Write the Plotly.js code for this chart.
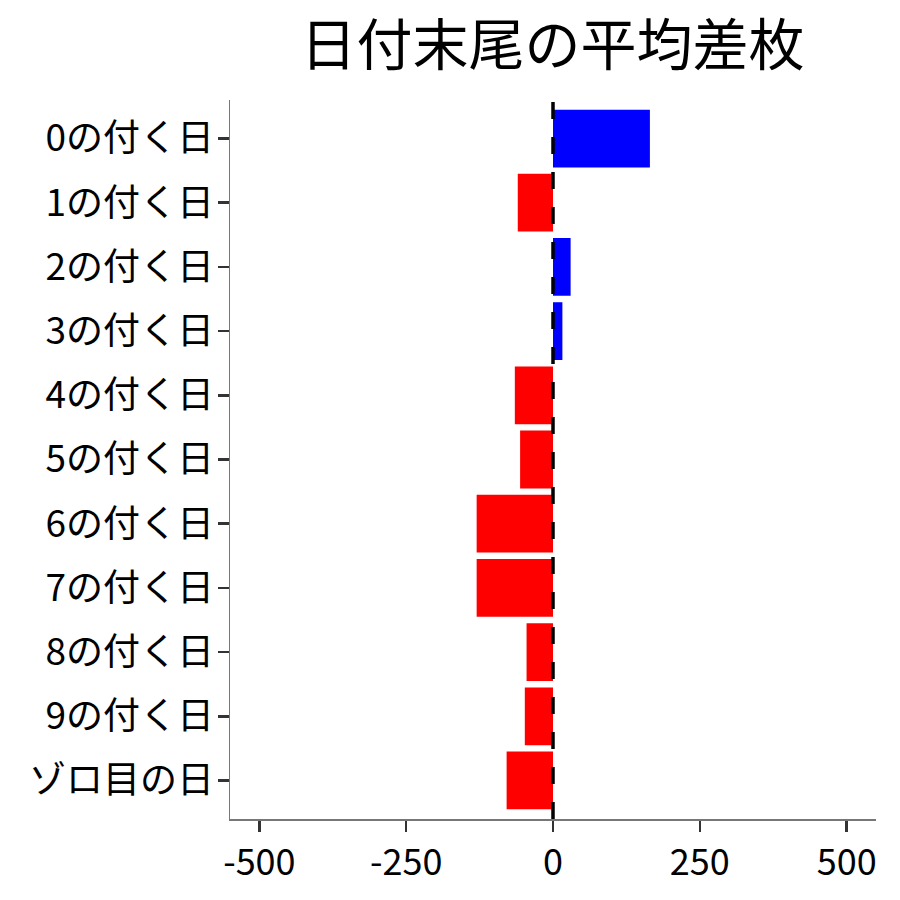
<!DOCTYPE html>
<html><head><meta charset="utf-8">
<script src="https://cdn.plot.ly/plotly-3.0.1.min.js"></script>
<style>body{margin:0;background:#fff}#c{width:900px;height:900px}</style>
</head><body><div id="c"></div>
<script>
const categories = ["0の付く日","1の付く日","2の付く日","3の付く日","4の付く日","5の付く日","6の付く日","7の付く日","8の付く日","9の付く日","ゾロ目の日"];
const values = [165, -60, 30, 16, -65, -56, -130, -130, -45, -48, -79];
const xTicks = [-500, -250, 0, 250, 500];
const titleText = "日付末尾の平均差枚";

const colors = values.map(v => v >= 0 ? "#0000FF" : "#FF0000");
const font = "Noto Sans CJK JP, Noto Sans, sans-serif";

Plotly.newPlot("c", [{
  type: "bar", orientation: "h",
  x: values, y: categories,
  marker: {color: colors, line: {width: 0}},
  width: 0.9, hoverinfo: "none"
}], {
  width: 900, height: 900,
  margin: {l: 230, r: 24, t: 100, b: 81},
  paper_bgcolor: "#fff", plot_bgcolor: "#fff",
  title: {text: titleText, font: {family: font, size: 56, color: "#000"}, x: 0.614, xanchor: "center", y: 0.95, yanchor: "middle"},
  showlegend: false,
  xaxis: {
    range: [-550, 550], tickvals: xTicks, ticktext: xTicks.map(String),
    showgrid: false, zeroline: false, showline: true, linecolor: "#777", linewidth: 1.5,
    ticks: "outside", ticklen: 11, tickwidth: 2.5, tickcolor: "#333",
    tickfont: {family: font, size: 36, color: "#000"}
  },
  yaxis: {
    type: "category", categoryorder: "array", categoryarray: categories,
    range: [10.6, -0.6],
    showgrid: false, zeroline: false, showline: true, linecolor: "#777", linewidth: 1.5,
    ticks: "outside", ticklen: 11, tickwidth: 2.5, tickcolor: "#333",
    ticklabelstandoff: -4,
    tickfont: {family: font, size: 37, color: "#000"}
  },
  shapes: [{type: "line", xref: "x", yref: "paper", x0: 0, x1: 0, y0: 0, y1: 1,
    line: {color: "#000", width: 3.5, dash: "17px,18px"}, layer: "above"}]
}, {staticPlot: true});
</script></body></html>
